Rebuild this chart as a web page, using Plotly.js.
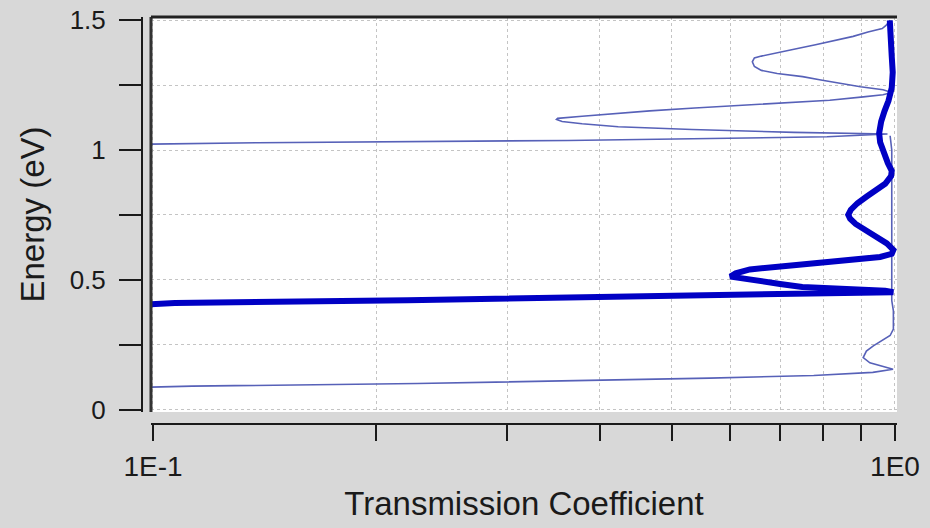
<!DOCTYPE html>
<html>
<head>
<meta charset="utf-8">
<script src="https://cdn.plot.ly/plotly-3.0.1.min.js"></script>
<style>
  html, body { margin: 0; padding: 0; background: #d8d8d8; }
  #chart { width: 930px; height: 528px; }
</style>
</head>
<body>
<div id="chart"></div>
<script>
// Transmission coefficient T(E) of the two structures (energy on the vertical axis).
// Thin curve: a null breaks the line where it runs off the left edge near 1.02 eV.
const thinT = [0.09, 0.1, 0.1129, 0.227, 0.3843, 0.5627, 0.7771, 0.9334, 0.994, 0.963, 0.925, 0.906,
  0.915, 0.935, 0.96, 0.985, 0.995, 0.995, 0.99, 0.99, 0.988, 0.988, 0.99, 0.99, 0.99, 0.985,
  null,
  0.09, 0.1, 0.1385, 0.3624, 0.81, 0.977, 0.7308, 0.5324, 0.4236, 0.3787, 0.3559, 0.3498, 0.351,
  0.3787, 0.4157, 0.4672, 0.5372, 0.6222, 0.7142, 0.8166, 0.9063, 0.9635, 0.99, 0.9635, 0.8983,
  0.8499, 0.7946, 0.7507, 0.6938, 0.6606, 0.6464, 0.6423, 0.6464, 0.6606, 0.6938, 0.7363, 0.7814,
  0.8297, 0.8783, 0.9196, 0.9611, 0.9725, 0.985];
const thinE = [0.083, 0.085, 0.090, 0.100, 0.111, 0.121, 0.131, 0.143, 0.155, 0.167, 0.180, 0.200,
  0.225, 0.245, 0.265, 0.285, 0.31, 0.38, 0.42, 0.50, 0.60, 0.70, 0.80, 0.90, 1.00, 1.055,
  null,
  1.021, 1.0225, 1.028, 1.037, 1.051, 1.062, 1.068, 1.079, 1.090, 1.101, 1.110, 1.118, 1.122,
  1.130, 1.140, 1.151, 1.162, 1.172, 1.181, 1.192, 1.205, 1.213, 1.222, 1.232, 1.244,
  1.257, 1.270, 1.283, 1.295, 1.307, 1.322, 1.340, 1.355, 1.362, 1.376, 1.390, 1.406,
  1.422, 1.438, 1.455, 1.468, 1.48, 1.5];

// Thick curve
const thickT = [0.09, 0.1, 0.107, 0.2203, 0.3966, 0.7055, 0.9, 0.995, 0.97, 0.85, 0.75, 0.70, 0.655,
  0.62, 0.60, 0.61, 0.6374, 0.7363, 0.8499, 0.9548, 0.99, 0.995, 0.975, 0.945, 0.91, 0.885, 0.87,
  0.865, 0.872, 0.89, 0.915, 0.945, 0.97, 0.988, 0.99, 0.978, 0.965, 0.955, 0.952, 0.958, 0.968,
  0.98, 0.99, 0.993, 0.99, 0.986, 0.984];
const thickE = [0.400, 0.404, 0.410, 0.4215, 0.433, 0.443, 0.447, 0.452, 0.458, 0.466, 0.472, 0.484, 0.495,
  0.504, 0.512, 0.525, 0.54, 0.557, 0.573, 0.588, 0.600, 0.615, 0.64, 0.665, 0.69, 0.715, 0.735,
  0.75, 0.77, 0.795, 0.82, 0.845, 0.87, 0.90, 0.92, 0.95, 0.99, 1.03, 1.065, 1.11, 1.15,
  1.19, 1.24, 1.30, 1.36, 1.42, 1.5];

// Axis ticks
const xTickVals = [0.1, 0.2, 0.3, 0.4, 0.5, 0.6, 0.7, 0.8, 0.9, 1];
const xTickText = ['1E-1', '', '', '', '', '', '', '', '', '1E0'];
const yTickVals = [0, 0.25, 0.5, 0.75, 1, 1.25, 1.5];
const yTickText = ['0', '', '0.5', '', '1', '', '1.5'];

const FONT = 'Liberation Sans, Arial, Helvetica, sans-serif';
const INK = '#1a1a1a';

const traces = [
  {
    x: thinT, y: thinE, type: 'scatter', mode: 'lines',
    line: { color: '#5761b8', width: 1.6 },
    connectgaps: false, hoverinfo: 'skip', showlegend: false
  },
  {
    x: thickT, y: thickE, type: 'scatter', mode: 'lines',
    line: { color: '#0000c4', width: 6 },
    hoverinfo: 'skip', showlegend: false
  }
];

const layout = {
  width: 930, height: 528,
  paper_bgcolor: '#d8d8d8',
  plot_bgcolor: '#ffffff',
  margin: { l: 142, r: 33, t: 17, b: 104, pad: 0 },
  font: { family: FONT, color: INK, size: 26 },
  showlegend: false,
  xaxis: {
    type: 'log',
    domain: [0.0119, 1],
    range: [-1.0027, 0.0027],
    anchor: 'free', position: 0,
    showline: true, linecolor: INK, linewidth: 2,
    ticks: 'outside', ticklen: 16, tickwidth: 2, tickcolor: INK,
    tickmode: 'array', tickvals: xTickVals, ticktext: xTickText,
    tickfont: { family: FONT, size: 28, color: INK },
    ticklabelstandoff: 1,
    showgrid: true, gridcolor: '#c4c4c4', gridwidth: 1, griddash: 'dot',
    zeroline: false, fixedrange: true,
    title: { text: 'Transmission Coefficient', font: { family: FONT, size: 33, color: INK }, standoff: 10 }
  },
  yaxis: {
    domain: [0.0295, 1],
    range: [-0.0096, 1.5127],
    anchor: 'free', position: 0,
    showline: true, linecolor: INK, linewidth: 2,
    ticks: 'outside', ticklen: 22, tickwidth: 2, tickcolor: INK,
    tickmode: 'array', tickvals: yTickVals, ticktext: yTickText,
    tickfont: { family: FONT, size: 26, color: INK },
    ticklabelstandoff: 8,
    showgrid: true, gridcolor: '#c4c4c4', gridwidth: 1, griddash: 'dot',
    zeroline: false, fixedrange: true,
    title: { text: 'Energy (eV)', font: { family: FONT, size: 33, color: INK }, standoff: 14 }
  },
  shapes: [
    { type: 'line', xref: 'x domain', yref: 'y domain', x0: 0, x1: 0, y0: 0, y1: 1,
      line: { color: '#333333', width: 3 } },
    { type: 'line', xref: 'x domain', yref: 'y domain', x0: 0, x1: 1, y0: 1, y1: 1,
      line: { color: '#222222', width: 3 } }
  ]
};

Plotly.newPlot('chart', traces, layout, { staticPlot: true, displayModeBar: false });
</script>
</body>
</html>
